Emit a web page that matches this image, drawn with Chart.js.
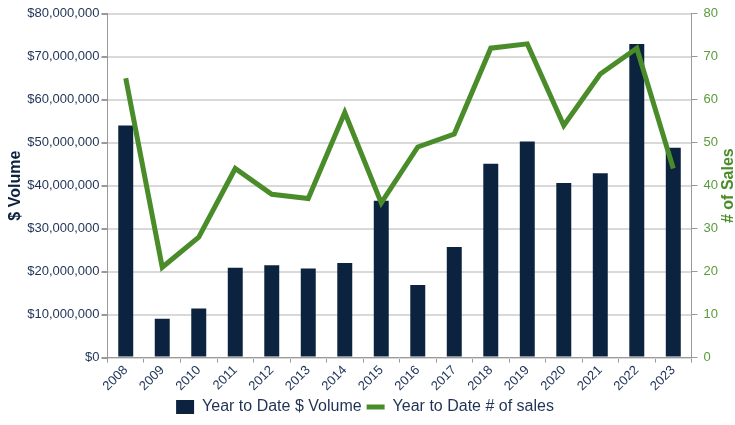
<!DOCTYPE html>
<html>
<head>
<meta charset="utf-8">
<script src="https://cdn.jsdelivr.net/npm/chart.js@4.4.1/dist/chart.umd.min.js"></script>
<style>
  html, body { margin: 0; padding: 0; background: #fff; }
  #wrap { width: 735px; height: 425px; }
</style>
</head>
<body>
<div id="wrap"><canvas id="salesChart" width="735" height="425"></canvas></div>
<script>
const years = ["2008", "2009", "2010", "2011", "2012", "2013", "2014", "2015",
  "2016", "2017", "2018", "2019", "2020", "2021", "2022", "2023"];
const volume = [54000000, 9000000, 11400000, 20900000, 21500000, 20700000, 22000000, 36500000,
  16900000, 25700000, 45100000, 50300000, 40600000, 42900000, 73000000, 48800000];
const salesCount = [65, 21, 28, 44, 38, 37, 57, 36, 49, 52, 72, 73, 54, 66, 72, 44];

const navy = "#0c2340";
const green = "#4a8c2a";
const textNavy = "#1f3256";

// right axis title reads bottom-to-top, so draw it ourselves
const rightTitle = {
  id: "rightTitle",
  afterDraw(chart) {
    const ctx = chart.ctx;
    const area = chart.chartArea;
    ctx.save();
    ctx.translate(729, (area.top + area.bottom) / 2);
    ctx.rotate(-Math.PI / 2);
    ctx.font = "bold 16px 'Liberation Sans', Arial, sans-serif";
    ctx.fillStyle = green;
    ctx.textAlign = "center";
    ctx.textBaseline = "middle";
    ctx.fillText("# of Sales", 0, 0);
    ctx.restore();
  }
};

const ctx = document.getElementById("salesChart");
new Chart(ctx, {
  type: "bar",
  data: {
    labels: years,
    datasets: [
      {
        type: "line",
        label: "Year to Date # of sales",
        data: salesCount,
        yAxisID: "ySales",
        borderColor: green,
        backgroundColor: green,
        borderWidth: 5,
        pointRadius: 0,
        pointStyle: "line",
        tension: 0,
        order: 0,
      },
      {
        type: "bar",
        label: "Year to Date $ Volume",
        data: volume,
        yAxisID: "yVol",
        backgroundColor: navy,
        pointStyle: "rect",
        barPercentage: 0.41,
        categoryPercentage: 1,
        order: 1,
      },
    ],
  },
  options: {
    responsive: false,
    animation: false,
    layout: { padding: { left: 6, right: 11, top: 4, bottom: 0 } },
    plugins: {
      tooltip: { enabled: false },
      legend: {
        position: "bottom",
        reverse: true,
        labels: {
          usePointStyle: true,
          pointStyleWidth: 18,
          boxHeight: 14,
          padding: 5,
          color: textNavy,
          font: { family: "'Liberation Sans', Arial, sans-serif", size: 16 },
        },
      },
    },
    scales: {
      x: {
        grid: { drawOnChartArea: false, offset: true, tickLength: 5, color: "#999" },
        border: { color: "#999" },
        ticks: {
          color: textNavy,
          minRotation: 45,
          maxRotation: 45,
          padding: 0,
          font: { family: "'Liberation Sans', Arial, sans-serif", size: 13 },
        },
      },
      yVol: {
        position: "left",
        min: 0,
        max: 80000000,
        ticks: {
          stepSize: 10000000,
          color: textNavy,
          padding: 2,
          font: { family: "'Liberation Sans', Arial, sans-serif", size: 13 },
          callback: (v) => "$" + v.toLocaleString("en-US"),
        },
        grid: { color: "#d9d9d9", lineWidth: 2, tickLength: 6, tickColor: "#999" },
        border: { color: "#999" },
        title: {
          display: true,
          text: "$ Volume",
          color: navy,
          padding: 0,
          font: { family: "'Liberation Sans', Arial, sans-serif", size: 16, weight: "bold" },
        },
      },
      ySales: {
        position: "right",
        min: 0,
        max: 80,
        ticks: {
          stepSize: 10,
          color: "#5a9a3a",
          padding: 6,
          font: { family: "'Liberation Sans', Arial, sans-serif", size: 13 },
        },
        grid: { drawOnChartArea: false, tickLength: 6, color: "#999" },
        border: { color: "#999" },
      },
    },
  },
  plugins: [rightTitle],
});
</script>
</body>
</html>
